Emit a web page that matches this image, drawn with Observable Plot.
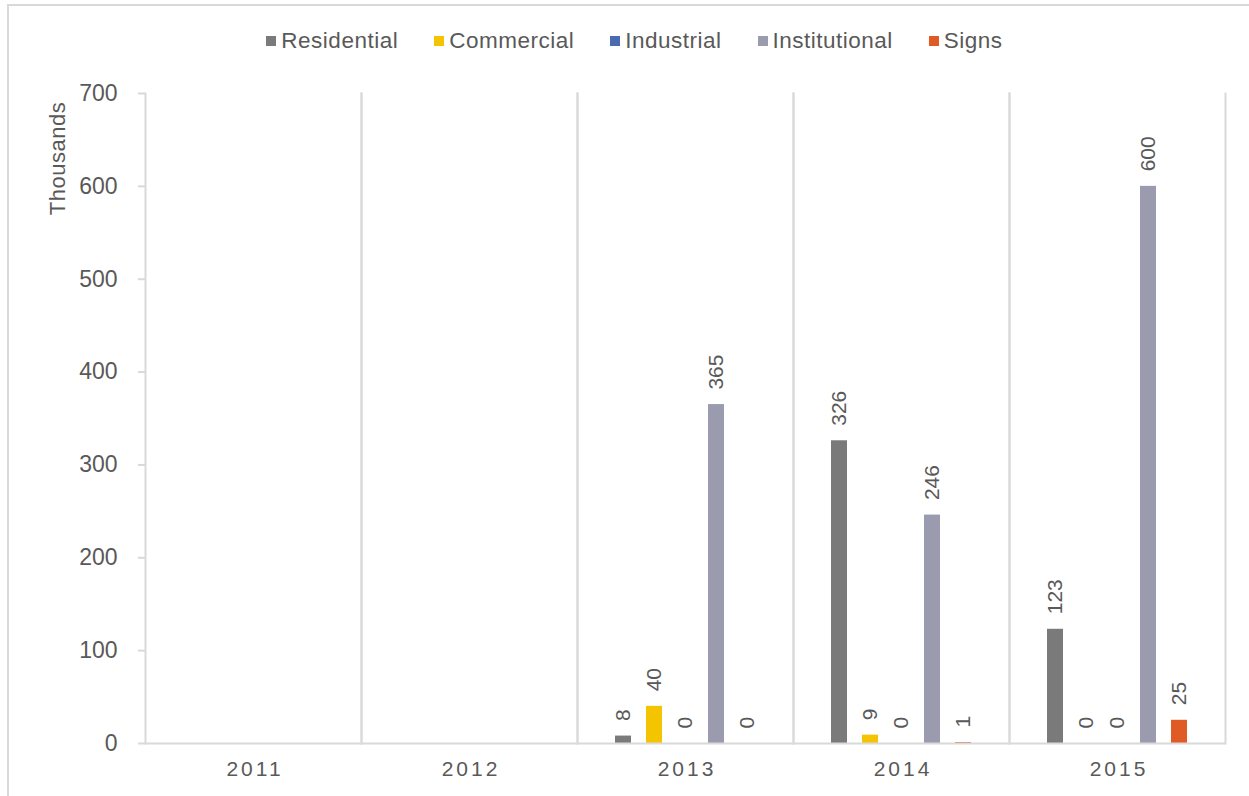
<!DOCTYPE html>
<html>
<head>
<meta charset="utf-8">
<script src="https://cdn.jsdelivr.net/npm/d3@7"></script>
<script src="https://cdn.jsdelivr.net/npm/@observablehq/plot@0.6"></script>
<style>
html, body { margin: 0; padding: 0; background: #fff; overflow: hidden; }
#wrap { position: relative; width: 1249px; height: 796px; font-family: "Liberation Sans", Arial, sans-serif; }
#border { position: absolute; left: 7px; top: 4px; width: 1400px; height: 1000px; border-left: 2px solid #d9d9d9; border-top: 2px solid #d9d9d9; pointer-events: none; }
#legend { position: relative; height: 60px; box-sizing: border-box; padding-top: 22px; padding-left: 20px; display: flex; justify-content: center; align-items: center; gap: 36px; font-size: 22.5px; color: #595959; letter-spacing: 0.5px; }
#legend .item { display: flex; align-items: center; }
#legend .sw { width: 10px; height: 10px; margin-right: 5px; }
#chart { position: relative; }
#chart svg { display: block; }
#chart g[aria-label="fx-axis tick label"] text { letter-spacing: 3px; }
</style>
</head>
<body>
<div id="wrap">
  <div id="border"></div>
  <div id="legend"></div>
  <div id="chart"></div>
</div>
<script>
// Categories and series
const years = ["2011", "2012", "2013", "2014", "2015"];
const series = ["Residential", "Commercial", "Industrial", "Institutional", "Signs"];
const colors = ["#7a7a7a", "#f5c400", "#4a6bb0", "#9a9bae", "#df5a24"];

// Values (thousands) for years with data
const dataYears = ["2013", "2014", "2015"];
const residential = [8, 326, 123];
const commercial = [40, 9, 0];
const industrial = [0, 0, 0];
const institutional = [365, 246, 600];
const signs = [0, 1, 25];

const yTicks = [0, 100, 200, 300, 400, 500, 600, 700];
const yLabel = "Thousands";

const valuesBySeries = [residential, commercial, industrial, institutional, signs];
const rows = [];
dataYears.forEach((yr, i) => {
  series.forEach((s, j) => rows.push({year: yr, series: s, value: valuesBySeries[j][i]}));
});

// Legend
const legend = document.getElementById("legend");
series.forEach((s, j) => {
  const item = document.createElement("div");
  item.className = "item";
  const sw = document.createElement("span");
  sw.className = "sw";
  sw.style.background = colors[j];
  const label = document.createElement("span");
  label.textContent = s;
  item.appendChild(sw);
  item.appendChild(label);
  legend.appendChild(item);
});

const grid = "#d9d9d9";
const ink = "#595959";

const plot = Plot.plot({
  width: 1249,
  height: 736,
  marginTop: 33,
  marginBottom: 53,
  marginLeft: 144,
  marginRight: 23,
  style: {fontFamily: "'Liberation Sans', Arial, sans-serif", fontSize: "22px", color: ink, background: "transparent", overflow: "visible"},
  fx: {domain: years, padding: 0},
  x: {domain: series, paddingInner: 0.475, paddingOuter: 1.141, axis: null},
  y: {domain: [0, 700]},
  color: {domain: series, range: colors},
  marks: [
    Plot.frame({anchor: "left", stroke: grid, strokeWidth: 2}),
    Plot.frame({anchor: "right", stroke: grid, strokeWidth: 2}),
    Plot.barY(rows, {fx: "year", x: "series", y: "value", fill: "series"}),
    Plot.ruleY(years, {fx: d => d, y: d => 0, stroke: grid, strokeWidth: 2}),
    Plot.text(rows, {fx: "year", x: "series", y: "value", text: d => String(d.value), rotate: -90, textAnchor: "start", dy: -15, fontSize: 21, fill: ink}),
    Plot.axisY({ticks: yTicks, tickSize: 7, tickPadding: 21, stroke: grid, strokeWidth: 2, fill: ink, label: null, fontSize: 23}),
    Plot.axisFx({anchor: "bottom", tickSize: 0, tickPadding: 18, label: null, fontSize: 21, fill: ink, dx: 1.5})
  ]
});

document.getElementById("chart").appendChild(plot);

d3.select(plot).append("text")
  .attr("transform", "translate(65,98.5) rotate(-90)")
  .attr("text-anchor", "middle")
  .attr("fill", ink)
  .attr("font-size", 22)
  .attr("letter-spacing", "0.5px")
  .text(yLabel);
</script>
</body>
</html>
